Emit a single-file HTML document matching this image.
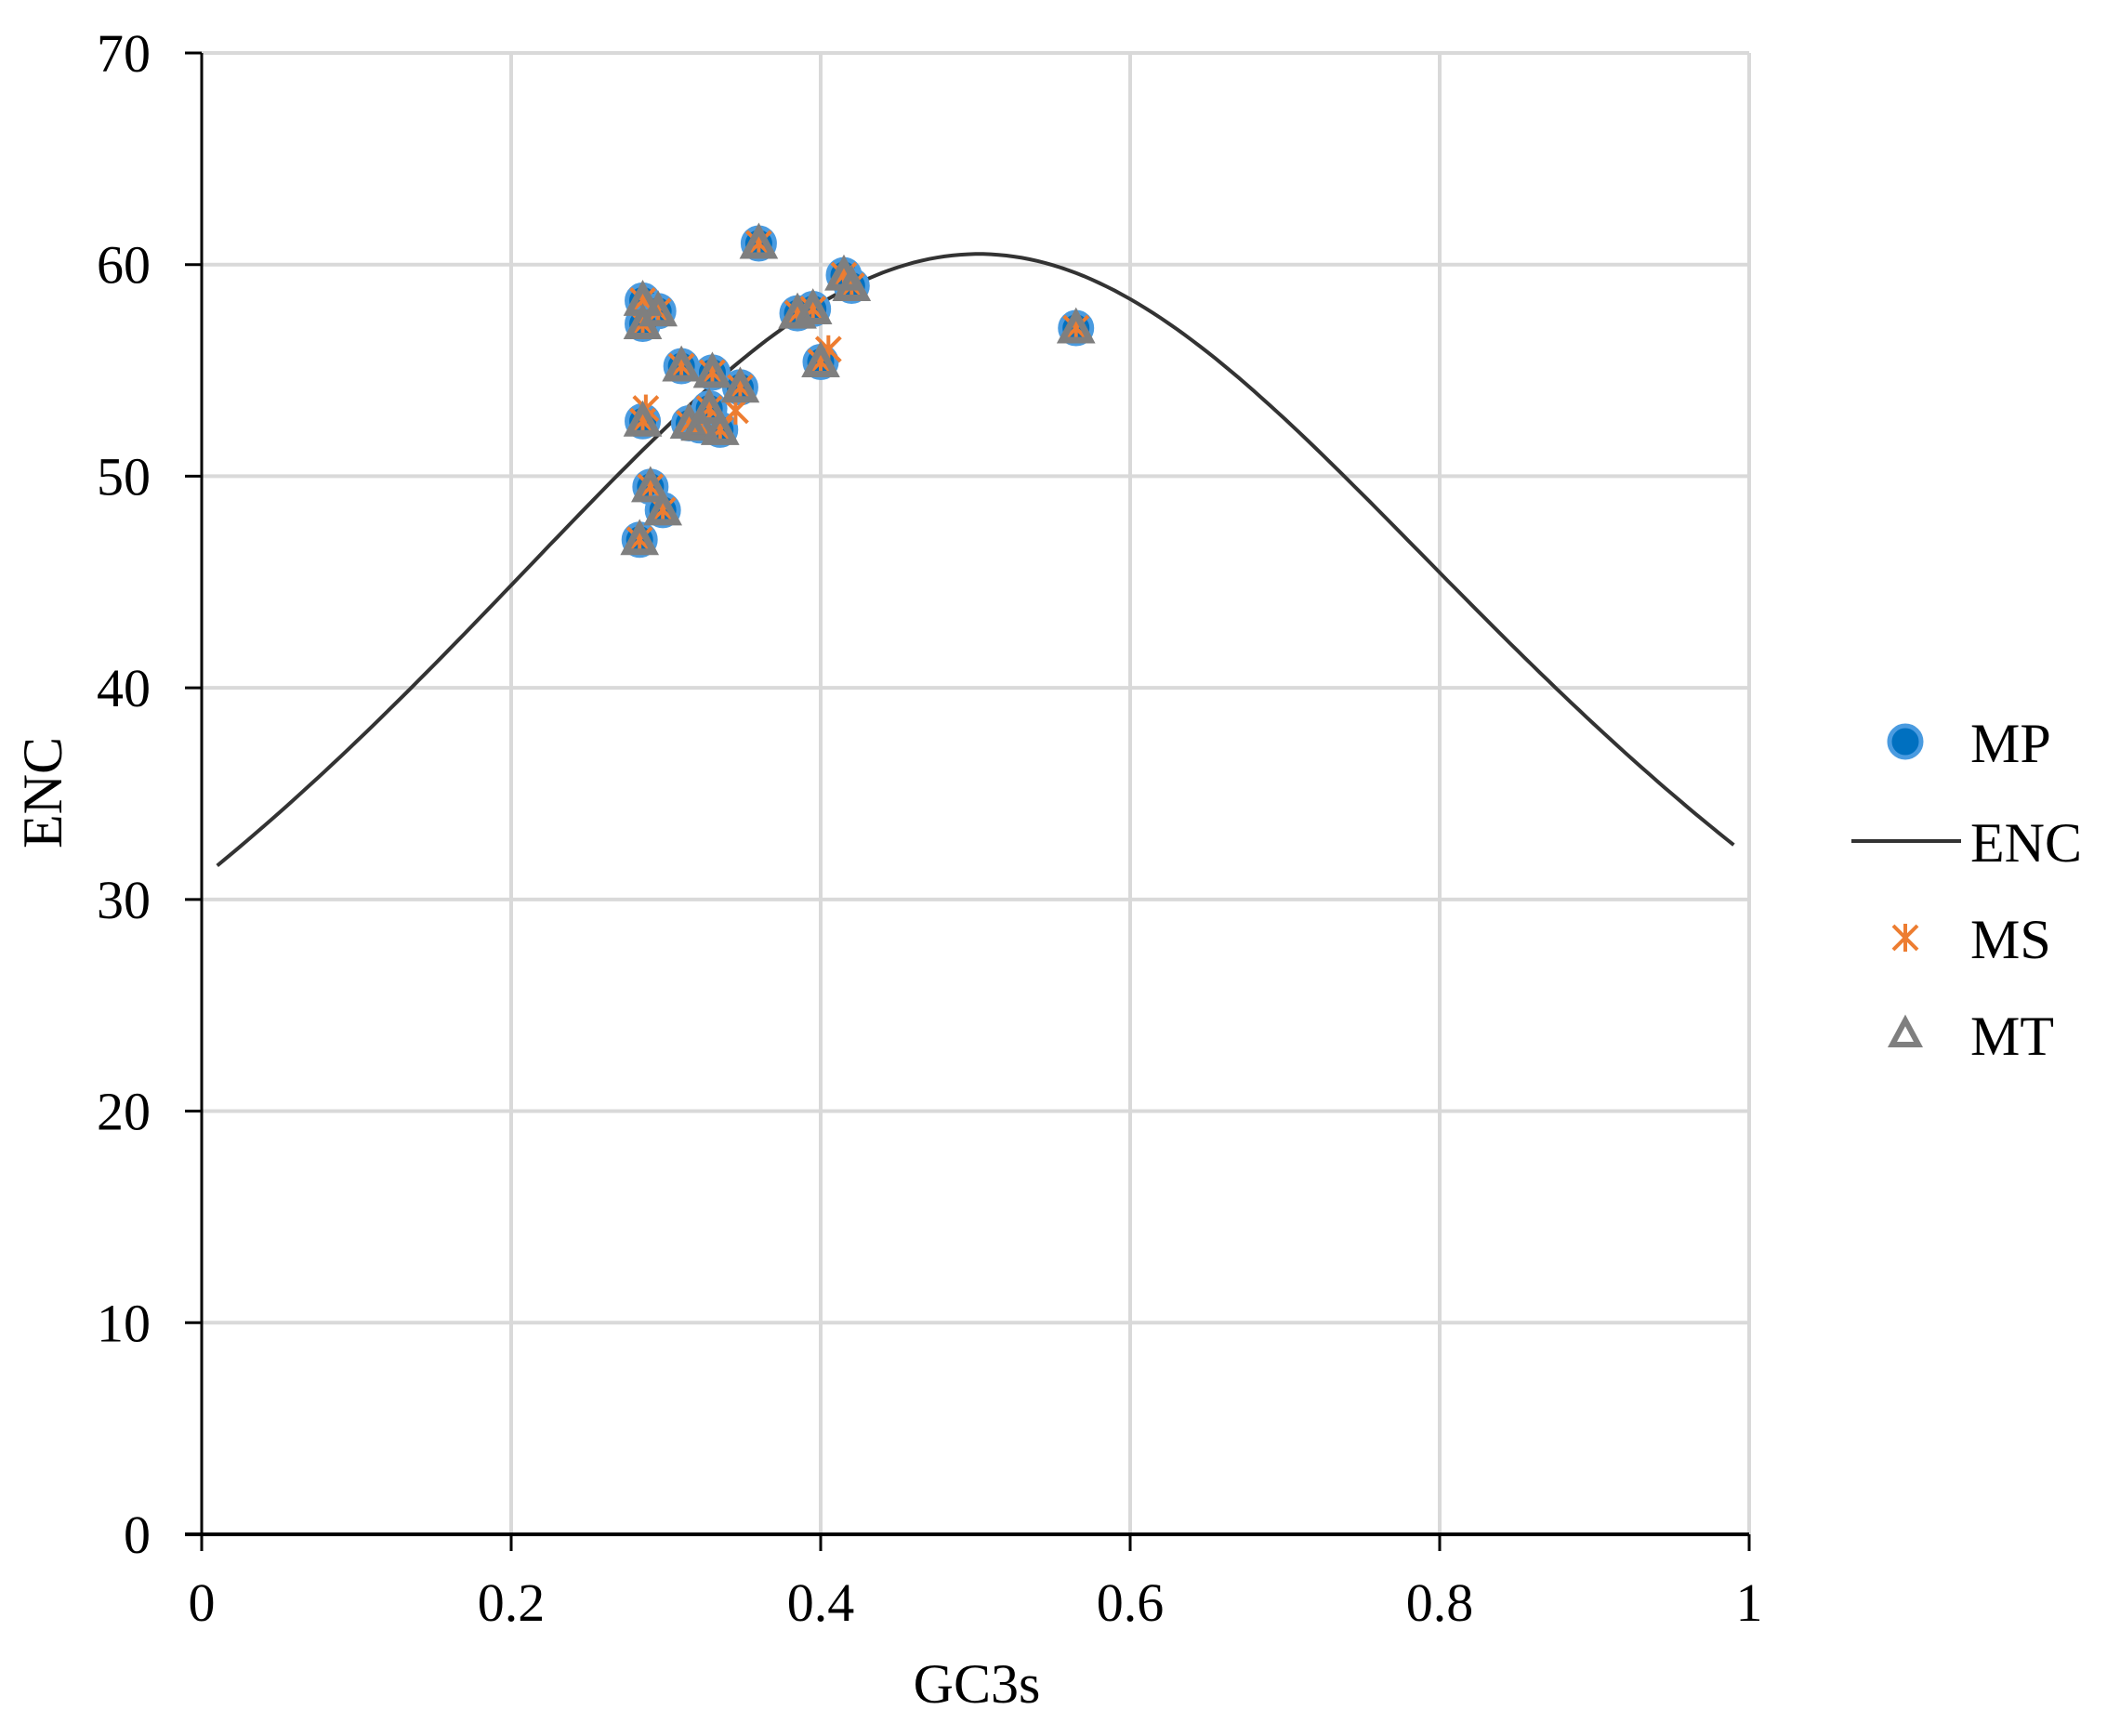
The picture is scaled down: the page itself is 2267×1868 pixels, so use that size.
<!DOCTYPE html>
<html><head><meta charset="utf-8"><style>body{margin:0;background:#fff}svg{display:block}text{font-family:"Liberation Serif","Times New Roman",serif;fill:#000}</style></head>
<body>
<svg id="s" width="2267" height="1868" viewBox="0 0 2267 1868" xmlns="http://www.w3.org/2000/svg">
<g id="grid" stroke="#d9d9d9" stroke-width="4"></g>
<g id="ax"></g>
<g id="pts"></g>
<text x="1051" y="1832" font-size="60" text-anchor="middle">GC3s</text>
<text transform="translate(66,853) rotate(-90)" font-size="60" text-anchor="middle">ENC</text>
<circle cx="2050" cy="798" r="17" fill="#0070c0" stroke="#4a9be0" stroke-width="5"/>
<text x="2120" y="820" font-size="60">MP</text>
<line x1="1992" y1="905" x2="2110" y2="905" stroke="#333" stroke-width="4"/>
<text x="2120" y="927" font-size="60">ENC</text>
<g stroke="#ed7d31" stroke-width="4"><line x1="2037" y1="996" x2="2063" y2="1022"/><line x1="2063" y1="996" x2="2037" y2="1022"/><line x1="2050" y1="994" x2="2050" y2="1024"/></g>
<text x="2120" y="1031" font-size="60">MS</text>
<polygon points="2050,1098 2064,1124 2036,1124" fill="none" stroke="#7f7f7f" stroke-width="6"/>
<text x="2120" y="1135" font-size="60">MT</text>
</svg>
<script>
var X0=217,X1=1882,Y0=1651,Y70=57;
function px(v){return X0+(X1-X0)*v}function py(v){return Y0-(Y0-Y70)*v/70}
var g=document.getElementById('grid'),a=document.getElementById('ax'),p=document.getElementById('pts'),h='',k='';
for(var i=1;i<=7;i++){h+='<line x1="'+X0+'" x2="'+X1+'" y1="'+py(i*10)+'" y2="'+py(i*10)+'"/>';}
for(var i=1;i<=5;i++){h+='<line y1="'+Y70+'" y2="'+Y0+'" x1="'+px(i*.2)+'" x2="'+px(i*.2)+'"/>';}
g.innerHTML=h;
k+='<line x1="'+X0+'" y1="'+Y70+'" x2="'+X0+'" y2="'+Y0+'" stroke="#000" stroke-width="3"/>';
k+='<line x1="'+(X0-18)+'" y1="'+Y0+'" x2="'+X1+'" y2="'+Y0+'" stroke="#000" stroke-width="4"/>';
for(var i=0;i<=7;i++){var y=py(i*10);k+='<line x1="'+(X0-18)+'" x2="'+X0+'" y1="'+y+'" y2="'+y+'" stroke="#000" stroke-width="3"/><text x="162" y="'+(y+20)+'" font-size="58" text-anchor="end">'+(i*10)+'</text>';}
var lb=['0','0.2','0.4','0.6','0.8','1'];
for(var i=0;i<=5;i++){var x=px(i*.2);k+='<line x1="'+x+'" x2="'+x+'" y1="'+Y0+'" y2="'+(Y0+18)+'" stroke="#000" stroke-width="3"/><text x="'+x+'" y="'+1744+'" font-size="58" text-anchor="middle">'+lb[i]+'</text>';}
var d='';for(var s=0.01;s<=0.9901;s+=0.005){var e=2+s+29/(s*s+(1-s)*(1-s));d+=(d?' L':'M')+px(s).toFixed(1)+','+py(e).toFixed(1);}
k+='<path d="'+d+'" fill="none" stroke="#333" stroke-width="4"/>';
a.innerHTML=k;
var P=[[.36,61],[.415,59.5],[.42,59],[.285,58.3],[.295,57.8],[.285,57.2],[.385,57.7],[.395,57.9],[.565,57],[.40,55.4],[.31,55.2],[.33,54.9],[.348,54.2],[.285,52.6],[.315,52.5],[.322,52.4],[.335,52.2],[.328,53.2],[.29,49.5],[.298,48.4],[.283,47]];
var q='';
P.forEach(function(v){q+='<circle cx="'+px(v[0])+'" cy="'+py(v[1])+'" r="17" fill="#0070c0" stroke="#4a9be0" stroke-width="5"/>';});
P.concat([[.405,56],[.287,53.2],[.345,53.1]]).forEach(function(v){var x=px(v[0]),y=py(v[1]);q+='<g stroke="#ed7d31" stroke-width="4"><line x1="'+(x-13)+'" y1="'+(y-13)+'" x2="'+(x+13)+'" y2="'+(y+13)+'"/><line x1="'+(x+13)+'" y1="'+(y-13)+'" x2="'+(x-13)+'" y2="'+(y+13)+'"/><line x1="'+x+'" y1="'+(y-15)+'" x2="'+x+'" y2="'+(y+15)+'"/></g>';});
P.forEach(function(v){var x=px(v[0]),y=py(v[1]);q+='<polygon points="'+x+','+(y-15)+' '+(x+15)+','+(y+13)+' '+(x-15)+','+(y+13)+'" fill="none" stroke="#7f7f7f" stroke-width="7"/>';});
p.innerHTML=q;
</script>
</body></html>
